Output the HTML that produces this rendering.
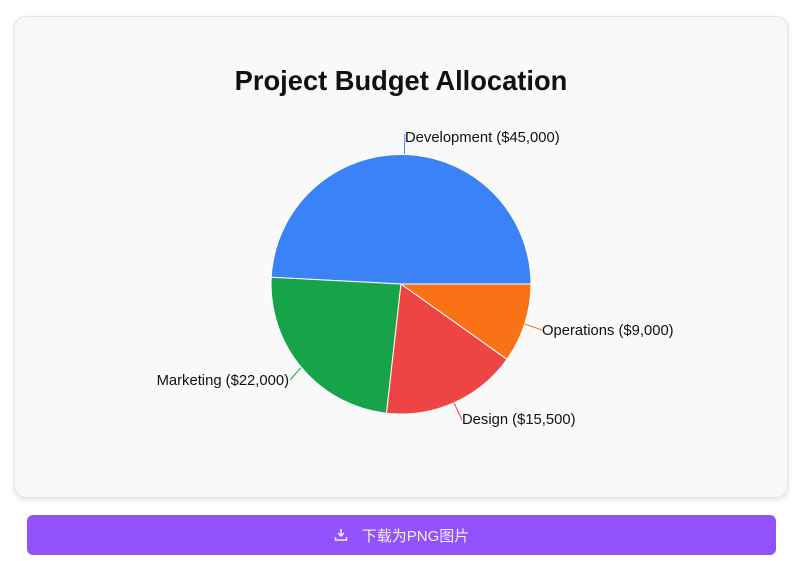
<!DOCTYPE html>
<html><head><meta charset="utf-8"><style>
body{margin:0;width:800px;height:561px;background:#fff;font-family:"Liberation Sans","Noto Sans CJK SC",sans-serif;position:relative;overflow:hidden}
.card{position:absolute;left:14px;top:16px;width:774px;height:482px;background:#f9f9f9;border:1px solid #e5e5e5;border-radius:12px;box-shadow:0 2px 6px rgba(0,0,0,0.12);box-sizing:border-box}
.btn{position:absolute;left:27px;top:515px;width:749px;height:40px;background:#9152fb;border-radius:6px;color:#f4efff;font-size:15px;display:flex;align-items:center;justify-content:center}
svg{position:absolute;left:0;top:0}
</style></head><body>
<div class="card"></div>
<svg width="800" height="500">
<text x="401" y="90" text-anchor="middle" font-family="Liberation Sans, sans-serif" font-weight="bold" font-size="27.3" fill="#111">Project Budget Allocation</text>
<g stroke="#fff" stroke-width="1">
<path d="M401,284 L531,284 A130,130 0 0 0 271.2,277.3 Z" fill="#3b82f6"/>
<path d="M401,284 L271.2,277.3 A130,130 0 0 0 386.5,413.2 Z" fill="#16a34a"/>
<path d="M401,284 L386.5,413.2 A130,130 0 0 0 507,359.3 Z" fill="#ef4444"/>
<path d="M401,284 L507,359.3 A130,130 0 0 0 531,284 Z" fill="#f97316"/>
</g>
<g fill="none" stroke-width="1">
<polyline points="404.4,154 405,134" stroke="#3b82f6"/>
<polyline points="301,367.6 290,380" stroke="#16a34a"/>
<polyline points="454,402.8 462,420" stroke="#ef4444"/>
<polyline points="524.6,324 542,330" stroke="#f97316"/>
</g>
<g font-size="14.8" fill="#111" font-family="Liberation Sans, sans-serif">
<text x="405" y="142">Development ($45,000)</text>
<text x="289" y="385" text-anchor="end">Marketing ($22,000)</text>
<text x="462" y="424">Design ($15,500)</text>
<text x="542" y="335">Operations ($9,000)</text>
</g>
</svg>
<div class="btn"><svg style="position:static;margin-right:14px" width="14" height="14" viewBox="0 0 14 14" fill="none" stroke="#f4efff" stroke-width="1.5"><path d="M7 1v7M4 5l3 3 3-3M1.5 9v3h11V9"/></svg>下载为PNG图片</div>
</body></html>
